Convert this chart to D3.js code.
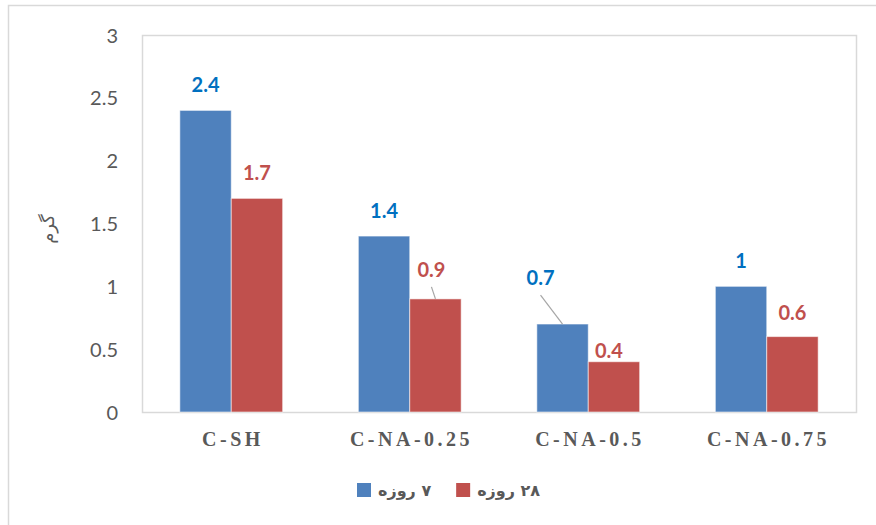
<!DOCTYPE html>
<html>
<head>
<meta charset="utf-8">
<script src="https://cdn.jsdelivr.net/npm/d3@7"></script>
<style>
  html, body { margin: 0; padding: 0; background: #fff; }
  svg { display: block; }
</style>
</head>
<body>
<svg id="chart" width="876" height="525"></svg>
<script>
// Mixes and measured values (grams)
const categories = ["C-SH", "C-NA-0.25", "C-NA-0.5", "C-NA-0.75"];
const seriesNames = ["۷ روزه", "۲۸ روزه"];
const day7 = [2.4, 1.4, 0.7, 1];
const day28 = [1.7, 0.9, 0.4, 0.6];
const yTicks = [0, 0.5, 1, 1.5, 2, 2.5, 3];
const yTitle = "گرم";

const colors = ["#4F81BD", "#C0504D"];
const labelColors = ["#0070C0", "#C0504D"];
const textGray = "#595959";

// Hand-placed value labels (dx, dy from default spot) and which get a leader line
const labelNudge = [
  [[0, 0], [0, 0], [-22, -21], [0, 0]],
  [[0, 0], [-4, -4], [-5, 14], [0, 1]]
];
const leader = [
  [false, false, true, false],
  [false, true, false, false]
];

const svg = d3.select("#chart");
const plot = { left: 142, right: 856, top: 35, bottom: 412 };

// outer chart frame
svg.append("rect")
  .attr("x", 8.5).attr("y", 5.5)
  .attr("width", 900).attr("height", 600)
  .attr("fill", "none").attr("stroke", "#D9D9D9").attr("stroke-width", 1.5);

// plot-area frame
svg.append("rect")
  .attr("x", plot.left + 0.5).attr("y", plot.top + 0.5)
  .attr("width", plot.right - plot.left).attr("height", plot.bottom - plot.top)
  .attr("fill", "none").attr("stroke", "#D9D9D9").attr("stroke-width", 1.5);

const x0 = d3.scaleBand()
  .domain(categories)
  .range([plot.left, plot.right])
  .paddingInner(0.424)
  .paddingOuter(0.212);

const x1 = d3.scaleBand()
  .domain([0, 1])
  .range([0, x0.bandwidth()]);

const y = d3.scaleLinear().domain([0, 3]).range([plot.bottom, plot.top]);

// y axis tick labels
const yAxis = d3.axisLeft(y).tickValues(yTicks).tickSize(0).tickPadding(0)
  .tickFormat(d3.format("~g"));
const yg = svg.append("g").attr("transform", `translate(${plot.left - 24},0)`).call(yAxis);
yg.select(".domain").remove();
yg.selectAll("text")
  .attr("fill", textGray)
  .style("font-family", "Lato, 'Open Sans', sans-serif")
  .style("font-size", "20px")
  .attr("dy", "0.35em");

// y axis title
svg.append("text")
  .attr("transform", `translate(54,229) rotate(-90)`)
  .attr("text-anchor", "middle")
  .attr("fill", textGray)
  .style("font-family", "'DejaVu Sans', sans-serif")
  .style("font-size", "18px")
  .text(yTitle);

// x axis category labels
const ls = 3.5;
const xAxis = d3.axisBottom(x0).tickSize(0).tickPadding(0);
const xg = svg.append("g").attr("transform", `translate(0,${plot.bottom})`).call(xAxis);
xg.select(".domain").remove();
xg.selectAll("text")
  .attr("y", 34)
  .attr("dy", 0)
  .attr("dx", ls / 2)
  .attr("fill", textGray)
  .style("font-family", "'Liberation Serif', 'Times New Roman', serif")
  .style("font-weight", "bold")
  .style("font-size", "20px")
  .style("letter-spacing", ls + "px");

// bars
const series = [day7, day28];
const rows = [];
series.forEach((vals, s) => {
  vals.forEach((v, i) => rows.push({ s, i, v, cat: categories[i] }));
});

svg.append("g").selectAll("rect")
  .data(rows)
  .join("rect")
  .attr("x", d => x0(d.cat) + x1(d.s))
  .attr("y", d => y(d.v))
  .attr("width", x1.bandwidth())
  .attr("height", d => y(0) - y(d.v))
  .attr("fill", d => colors[d.s])
  .attr("stroke", "rgba(255,255,255,0.55)")
  .attr("stroke-width", 1);

// value labels
const lab = rows.map(d => {
  const cx = x0(d.cat) + x1(d.s) + x1.bandwidth() / 2;
  const top = y(d.v);
  const [dx, dy] = labelNudge[d.s][d.i];
  return { ...d, cx, top, lx: cx + dx, ly: top - 18 + dy };
});

svg.append("g").selectAll("line")
  .data(lab.filter(d => leader[d.s][d.i]))
  .join("line")
  .attr("x1", d => d.lx).attr("y1", d => d.ly + 10)
  .attr("x2", d => d.cx).attr("y2", d => d.top)
  .attr("stroke", "#A6A6A6").attr("stroke-width", 1.2);

svg.append("g").selectAll("text")
  .data(lab)
  .join("text")
  .attr("x", d => d.lx)
  .attr("y", d => d.ly)
  .attr("text-anchor", "middle")
  .attr("fill", d => labelColors[d.s])
  .style("font-family", "Lato, 'Open Sans', sans-serif")
  .style("font-weight", "bold")
  .style("font-size", "20px")
  .text(d => d3.format("~g")(d.v));

// legend
const legend = svg.append("g");
let lx = 357;
seriesNames.forEach((name, s) => {
  legend.append("rect")
    .attr("x", lx).attr("y", 483)
    .attr("width", 14).attr("height", 14)
    .attr("fill", colors[s]);
  const t = legend.append("text")
    .attr("y", 496)
    .attr("text-anchor", "middle")
    .attr("direction", "rtl")
    .attr("fill", textGray)
    .style("font-family", "'DejaVu Sans', sans-serif")
    .style("font-weight", "bold")
    .style("font-size", "16px")
    .text(name);
  const w = t.node().getComputedTextLength();
  t.attr("x", lx + 21 + w / 2);
  lx = lx + 21 + w + 25;
});
</script>
</body>
</html>
